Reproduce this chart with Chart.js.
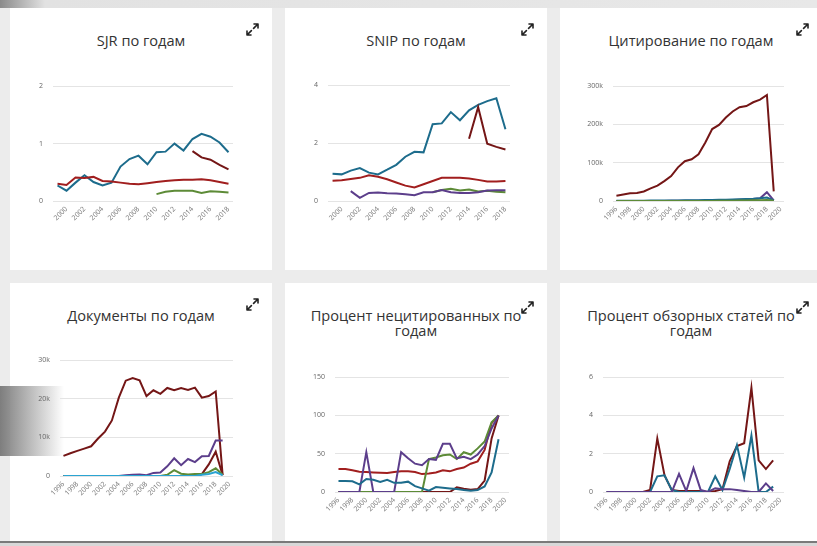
<!DOCTYPE html>
<html><head><meta charset="utf-8">
<script src="https://cdn.jsdelivr.net/npm/chart.js@4.4.0/dist/chart.umd.min.js"></script>
<style>
html,body{margin:0;padding:0;}
body{width:817px;height:546px;background:#ececec;position:relative;overflow:hidden;font-family:'Open Sans',sans-serif;}
.card{position:absolute;background:#fff;width:262px;height:262px;}
.title{position:absolute;left:0;right:0;top:25px;text-align:center;font-size:14.6px;color:#333;line-height:15px;}
.icon{position:absolute;left:236px;top:15px;width:13px;height:13px;}
canvas{position:absolute;}
.shade{position:absolute;}
</style></head><body>
<svg width="0" height="0" style="position:absolute">
  <defs>
    <g id="expand" fill="none" stroke="#222" stroke-width="1.6" stroke-linecap="round" stroke-linejoin="round">
      <path d="M7.6 5.4 L12 1 M8 1 H12 V5"/>
      <path d="M5.4 7.6 L1 12 M1 8 V12 H5"/>
    </g>
  </defs>
</svg>
<div class="shade" style="left:0;top:0;width:817px;height:8px;background:linear-gradient(to right,#8a8a8a,#e2e2e2 45px,#e8e8e8);"></div>
<div class="card" style="left:10px;top:8px"><div class="title">SJR по годам</div><svg class="icon" viewBox="0 0 13 13"><use href="#expand"/></svg></div>
<div class="card" style="left:285px;top:8px"><div class="title">SNIP по годам</div><svg class="icon" viewBox="0 0 13 13"><use href="#expand"/></svg></div>
<div class="card" style="left:560px;top:8px"><div class="title">Цитирование по годам</div><svg class="icon" viewBox="0 0 13 13"><use href="#expand"/></svg></div>
<div class="card" style="left:10px;top:283px"><div class="title">Документы по годам</div><svg class="icon" viewBox="0 0 13 13"><use href="#expand"/></svg></div>
<div class="card" style="left:285px;top:283px"><div class="title">Процент нецитированных по<br>годам</div><svg class="icon" style="top:18px" viewBox="0 0 13 13"><use href="#expand"/></svg></div>
<div class="card" style="left:560px;top:283px"><div class="title">Процент обзорных статей по<br>годам</div><svg class="icon" style="top:18px" viewBox="0 0 13 13"><use href="#expand"/></svg></div>
<div class="shade" style="left:0;top:386px;width:64px;height:70px;background:linear-gradient(to right,rgba(120,120,120,0.95),rgba(190,190,190,0.6) 70%,rgba(235,235,235,0));"></div>
<div class="shade" style="left:0;top:541px;width:817px;height:2px;background:#7a7a7a;"></div>
<div class="shade" style="left:0;top:543px;width:817px;height:3px;background:#d8d8d8;"></div>
<canvas id="c1"></canvas><canvas id="c2"></canvas><canvas id="c3"></canvas>
<canvas id="c4"></canvas><canvas id="c5"></canvas><canvas id="c6"></canvas>
<script>
// ---- categories ----
const yearsA = ['1999','2000','2001','2002','2003','2004','2005','2006','2007','2008','2009','2010','2011','2012','2013','2014','2015','2016','2017','2018'];
const yearsB = ['1996','1997','1998','1999','2000','2001','2002','2003','2004','2005','2006','2007','2008','2009','2010','2011','2012','2013','2014','2015','2016','2017','2018','2019','2020'];

// ---- SJR ----
const sjrBlue   = [0.27,0.18,0.32,0.45,0.33,0.27,0.32,0.6,0.73,0.79,0.64,0.85,0.86,1.0,0.88,1.08,1.17,1.12,1.02,0.85];
const sjrRed    = [0.3,0.28,0.41,0.4,0.42,0.35,0.34,0.32,0.3,0.29,0.31,0.33,0.35,0.36,0.37,0.37,0.38,0.36,0.33,0.3];
const sjrMaroon = [null,null,null,null,null,null,null,null,null,null,null,null,null,null,null,0.87,0.76,0.72,0.63,0.55];
const sjrGreen  = [null,null,null,null,null,null,null,null,null,null,null,0.12,0.16,0.18,0.18,0.18,0.14,0.17,0.16,0.15];

// ---- SNIP ----
const snipBlue   = [0.94,0.92,1.05,1.14,0.98,0.92,1.08,1.25,1.53,1.7,1.68,2.65,2.68,3.07,2.79,3.13,3.32,3.45,3.55,2.48];
const snipRed    = [0.7,0.72,0.76,0.8,0.89,0.84,0.75,0.64,0.53,0.47,0.58,0.69,0.8,0.8,0.8,0.78,0.73,0.67,0.67,0.69];
const snipMaroon = [null,null,null,null,null,null,null,null,null,null,null,null,null,null,null,2.15,3.24,1.98,1.87,1.78];
const snipPurple = [null,null,0.34,0.11,0.28,0.29,0.27,0.26,0.23,0.2,0.3,0.3,0.38,0.3,0.28,0.28,0.3,0.36,0.37,0.37];
const snipGreen  = [null,null,null,null,null,null,null,null,null,null,null,0.3,0.38,0.42,0.36,0.4,0.33,0.35,0.32,0.3];

// ---- Citations ----
const citRed    = [14000,17000,20000,21000,25000,33000,40000,52000,65000,88000,104000,109000,122000,153000,188000,199000,218000,234000,245000,248000,258000,265000,277000,25000];
const citBlue   = [500,600,700,800,900,1000,1100,1200,1400,1500,1700,1900,2100,2400,2700,3000,3400,3900,4500,5200,6000,7200,9000,1500];
const citPurple = [0,0,0,0,0,100,200,300,400,500,600,700,900,1100,1400,1800,2300,2800,3400,4200,5200,7000,23000,1500];
const citGreen  = [0,0,0,0,0,0,0,0,0,0,0,0,0,0,300,500,700,900,1100,1400,1700,2100,2600,400];

// ---- Documents ----
const docsRed    = [5200,5900,6500,7100,7700,9700,11500,14400,20300,24700,25400,24800,20700,22200,21300,22800,22200,22800,22300,22900,20300,20700,21900,300];
const docsPurple = [0,0,0,0,0,0,0,0,0,200,300,400,200,800,900,2500,4600,2800,4400,3600,5100,5200,9200,9200];
const docsMaroon = [0,0,0,0,0,0,0,0,0,0,0,0,0,0,0,0,0,0,0,0,500,3000,6300,200];
const docsGreen  = [0,0,0,0,0,0,0,0,0,0,0,0,0,0,0,300,1500,600,400,500,500,1000,2000,300];
const docsLight  = [0,0,0,0,0,0,0,0,0,0,0,0,0,0,0,0,0,0,0,0,300,500,1000,200];

// ---- Uncited % ----
const uncRed    = [30,30,28.5,26.4,26,25.5,25,24.7,26,27,27,26,23.4,24.3,25.5,28.5,27,30,32,37,40,55,90,100];
const uncPurple = [0,0,0,0,52,0,0,0,0,52,44,37,35,43,42,63,63,44,46,43,49,60,83,100];
const uncGreen  = [0,0,0,0,0,0,0,0,0,0,0,0,0,43,45,48,49,43,52,49,57,66,91,100];
const uncBlue   = [14.5,14.5,14,10,17,16,13,16,12,12,13.5,7.7,4.7,1.7,6.4,5.5,4.7,3.8,2.6,1.7,2.6,7.2,25.5,69];
const uncMaroon = [0,0,0,0,0,0,0,0,0,0,0,0,0,0,0,0,0,6,4.3,3,3.8,15,70,100];

// ---- Reviews % ----
const revRed    = [0,0,0,0,0,0,0.1,2.8,0.87,0.1,0.05,0.05,0.05,0.05,0,0.05,0.15,1.6,2.4,2.55,5.45,1.65,1.2,1.65];
const revBlue   = [0,0,0,0,0,0,0,0.82,0.87,0.1,0,0,0,0,0,0.82,0.1,1.2,2.45,0.75,2.95,0,0,0.28];
const revPurple = [0,0,0,0,0,0,0,0,0,0,0.95,0.05,1.25,0.1,0,0.2,0.15,0.15,0.1,0.05,0,0,0.45,0.05];

const C = {blue:'#1d6c8c', red:'#a11e1e', maroon:'#741616', green:'#5d8b37', purple:'#5c3e8b', light:'#2aa4d2'};

function ds(data,color){return {data:data,borderColor:color,backgroundColor:color,fill:false,spanGaps:false};}

function make(id, rect, labels, datasets, yMax, yStep, yFmt){
  const W = (rect.R-rect.L)+55, H = (rect.B-rect.T)+55;
  const cv = document.getElementById(id);
  cv.width = W; cv.height = H;
  cv.style.left = (rect.L-45)+'px'; cv.style.top = (rect.T-10)+'px';
  cv.style.width = W+'px'; cv.style.height = H+'px';
  new Chart(cv, {
    type:'line',
    data:{labels:labels, datasets:datasets},
    options:{
      responsive:false, animation:false, devicePixelRatio:1,
      layout:{padding:{left:0,right:10,top:5.8,bottom:0}},
      plugins:{legend:{display:false}, tooltip:{enabled:false}},
      elements:{point:{radius:0}, line:{borderWidth:2, tension:0}},
      scales:{
        x:{offset:true, grid:{display:false, drawTicks:false}, border:{display:false},
           ticks:{autoSkip:false, minRotation:45, maxRotation:45, padding:4, color:'#777',
                  font:{size:7, family:'Open Sans'},
                  callback:function(v,i){const y=labels[i]; return (+y)%2===0 ? y : '';}},
           afterFit:function(s){s.height=45;}},
        y:{min:0, max:yMax, grid:{color:'#e4e4e4', drawTicks:false, lineWidth:1}, border:{display:false},
           ticks:{stepSize:yStep, padding:10, color:'#666', font:{size:7, family:'Open Sans'},
                  callback:yFmt},
           afterFit:function(s){s.width=45;}}
      }
    }
  });
}
const plain = v => String(v);
const kfmt = v => v===0 ? '0' : (v/1000)+'k';

make('c1',{L:53,R:233,T:82,B:201}, yearsA,
  [ds(sjrGreen,C.green), ds(sjrRed,C.red), ds(sjrMaroon,C.maroon), ds(sjrBlue,C.blue)], 2, 1, plain);
make('c2',{L:328,R:510,T:81,B:201}, yearsA,
  [ds(snipPurple,C.purple), ds(snipGreen,C.green), ds(snipRed,C.red), ds(snipMaroon,C.maroon), ds(snipBlue,C.blue)], 4, 2, plain);
make('c3',{L:613,R:784,T:82,B:201}, yearsB,
  [ds(citGreen,C.green), ds(citBlue,C.blue), ds(citPurple,C.purple), ds(citRed,C.maroon)], 300000, 100000, kfmt);
make('c4',{L:60,R:233,T:356,B:476}, yearsB,
  [ds(docsLight,C.light), ds(docsGreen,C.green), ds(docsPurple,C.purple), ds(docsMaroon,C.maroon), ds(docsRed,C.maroon)], 30000, 10000, kfmt);
make('c5',{L:335,R:509,T:373,B:492}, yearsB,
  [ds(uncBlue,C.blue), ds(uncPurple,C.purple), ds(uncGreen,C.green), ds(uncRed,C.red), ds(uncMaroon,C.maroon)], 150, 50, plain);
make('c6',{L:603,R:784,T:373,B:492}, yearsB,
  [ds(revPurple,C.purple), ds(revBlue,C.blue), ds(revRed,C.maroon)], 6, 2, plain);
</script>
</body></html>
